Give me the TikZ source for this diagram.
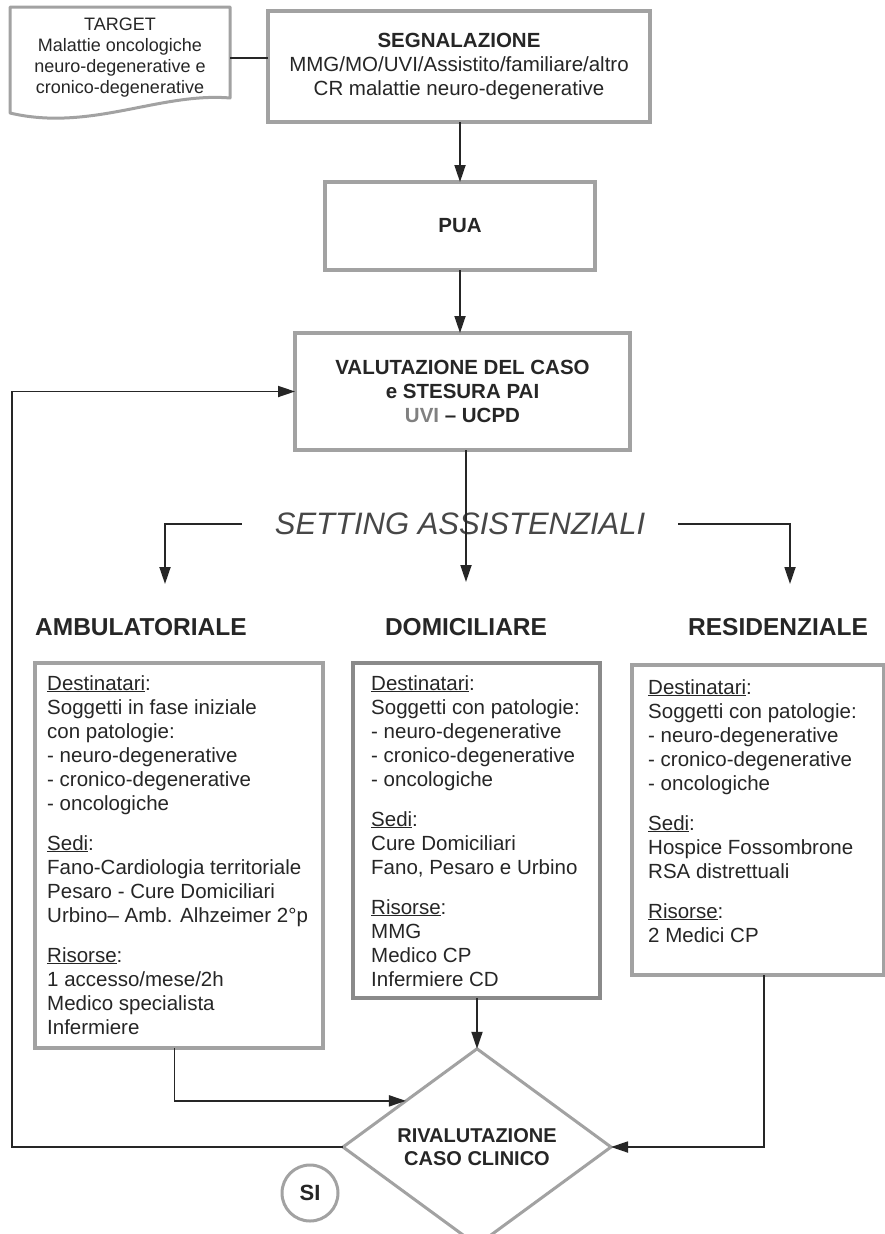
\documentclass[tikz,border=0pt]{standalone}
\usepackage{fontspec}
\setmainfont{Liberation Sans}
\usetikzlibrary{arrows.meta,shapes.geometric}
\definecolor{ink}{HTML}{262626}
\definecolor{frame}{HTML}{A2A2A2}
\definecolor{framedark}{HTML}{8A8A8A}
\definecolor{soft}{HTML}{808080}

\begin{document}
\begin{tikzpicture}[x=1pt,y=-1pt,
  box/.style={draw=frame, line width=3.8pt, fill=white, inner sep=0pt, outer sep=0pt},
  conn/.style={draw=ink, line width=1.8pt},
  arr/.style={conn, -{Triangle[length=17pt,width=11pt]}},
  body/.style={font=\fontsize{20.5}{24}\selectfont, text=ink, align=left, anchor=north west, inner sep=0pt},
  head/.style={font=\bfseries\fontsize{24.5}{28}\selectfont, text=ink, inner sep=0pt},
  mid/.style={font=\fontsize{20.5}{24}\selectfont, text=ink, align=center},
]
\fill[white] (0,0) rectangle (885,1234);
\useasboundingbox (0,0) rectangle (885,1234);

% target document shape with wavy lower edge
\draw[frame, line width=3pt, line join=round, fill=white]
  (10,7) -- (230,7) -- (230,98)
  .. controls (160,92) and (90,132) .. (10,113) -- cycle;
\node[font=\fontsize{18}{21}\selectfont, text=ink, align=center,
      minimum width=220pt, inner sep=0pt] (target) at (120,58)
  {TARGET\\Malattie oncologiche\\neuro-degenerative e\\cronico-degenerative};

% main process boxes
\node[box, mid, minimum width=382pt, minimum height=111pt] (segn) at (459,66.5)
  {\textbf{SEGNALAZIONE}\\MMG/MO/UVI/Assistito/familiare/altro\\CR malattie neuro-degenerative};
\node[box, mid, minimum width=270pt, minimum height=88pt] (pua) at (460,226)
  {\textbf{PUA}};
\node[box, mid, minimum width=335pt, minimum height=117pt] (valu) at (462.5,391.5)
  {\textbf{VALUTAZIONE DEL CASO}\\\textbf{e STESURA PAI}\\\textcolor{soft}{\textbf{UVI}} \textbf{– UCPD}};

\draw[conn] (target.east) -- (segn.west |- target.east);
\draw[arr] (segn.south -| pua.north) -- (pua.north);
\draw[arr] (pua.south) -- (pua.south |- valu.north);

% care settings
\node[head, anchor=west] (tamb) at (35,627) {AMBULATORIALE};
\node[head] (tdom) at (466,627) {DOMICILIARE};
\node[head] (tres) at (778,627) {RESIDENZIALE};
\node[font=\itshape\fontsize{31}{34}\selectfont, text=ink!85, inner xsep=33pt, inner ysep=0pt] (set) at (460,524)
  {SETTING ASSISTENZIALI};

\coordinate (ambdrop) at (165,584);
\coordinate (resdrop) at (790,584);
\draw[arr] (valu.south -| tdom.north) -- ++(0,132);
\draw[arr] (set.west) -| (ambdrop);
\draw[arr] (set.east) -| (resdrop);

% setting boxes
\node[box, anchor=north west, minimum width=288pt, minimum height=385pt] (amb) at (35,663) {};
\node[box, draw=framedark, line width=4.8pt, anchor=north west, minimum width=247pt, minimum height=335pt] (dom) at (353,663) {};
\node[box, anchor=north west, minimum width=252pt, minimum height=310pt] (res) at (632,665) {};

\node[body] (ambtxt) at ([shift={(12,12)}]amb.north west)
  {\underline{Destinatari}:\\Soggetti in fase iniziale\\con patologie:\\- neuro-degenerative\\- cronico-degenerative\\- oncologiche\\[16pt]
   \underline{Sedi}:\\Fano-Cardiologia territoriale\\Pesaro - Cure Domiciliari\\Urbino– Amb. Alhzeimer 2°p\\[16pt]
   \underline{Risorse}:\\1 accesso/mese/2h\\Medico specialista\\Infermiere};
\node[body] (domtxt) at ([shift={(18,12)}]dom.north west)
  {\underline{Destinatari}:\\Soggetti con patologie:\\- neuro-degenerative\\- cronico-degenerative\\- oncologiche\\[16pt]
   \underline{Sedi}:\\Cure Domiciliari\\Fano, Pesaro e Urbino\\[16pt]
   \underline{Risorse}:\\MMG\\Medico CP\\Infermiere CD};
\node[body] (restxt) at ([shift={(16,14)}]res.north west)
  {\underline{Destinatari}:\\Soggetti con patologie:\\- neuro-degenerative\\- cronico-degenerative\\- oncologiche\\[16pt]
   \underline{Sedi}:\\Hospice Fossombrone\\RSA distrettuali\\[16pt]
   \underline{Risorse}:\\2 Medici CP};

% re-assessment
\node[diamond, draw=frame, line width=3pt, fill=white, minimum width=268pt, minimum height=174pt,
      inner sep=0pt, outer sep=0pt, align=center, font=\bfseries\fontsize{20}{23}\selectfont, text=ink]
  (diam) at (477,1147) {RIVALUTAZIONE\\CASO CLINICO};
\node[circle, draw=frame, line width=3pt, minimum size=56pt, inner sep=0pt,
      font=\bfseries\fontsize{22}{24}\selectfont, text=ink] (si) at (310,1193) {SI};

\draw[arr] (dom.south -| diam.north) -- (diam.north);
\draw[arr] ([xshift=-4.5pt]amb.south) |- (diam.147);
\draw[arr] ([xshift=6pt]res.south) |- (diam.east);

\coordinate (loopx) at (12,0);
\draw[arr] (diam.west) -- (diam.west -| loopx) |- (valu.west);
\end{tikzpicture}
\end{document}
